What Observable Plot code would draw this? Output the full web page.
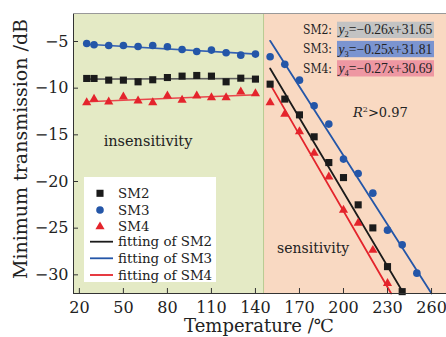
<!DOCTYPE html>
<html><head><meta charset="utf-8">
<script src="https://cdn.jsdelivr.net/npm/d3@7"></script>
<script src="https://cdn.jsdelivr.net/npm/@observablehq/plot@0.6"></script>
<style>
html,body{margin:0;padding:0;background:#fff;}
#chart{position:relative;width:446px;height:337px;overflow:hidden;}
</style></head><body><div id="chart"></div>
<script>
// ---- data ----
const tempLow = [25,30,40,50,60,70,80,90,100,110,120,130,140];
const sm2Low = [-8.96,-8.96,-9.14,-9.14,-9.32,-9.10,-8.86,-8.71,-8.64,-8.71,-9.32,-8.93,-9.03];
const sm3Low = [-5.21,-5.35,-5.43,-5.43,-5.54,-5.43,-5.57,-5.86,-6.07,-5.92,-6.21,-6.46,-6.35];
const sm4Low = [-11.54,-11.17,-11.46,-10.93,-11.36,-11.54,-10.82,-11.28,-10.82,-11.0,-11.0,-10.39,-10.57];

const tempHigh2 = [150,160,170,180,190,200,210,220,230,240];
const sm2High = [-9.57,-11.17,-12.86,-15.21,-17.97,-19.58,-22.5,-24.97,-29.12,-31.8];
const tempHigh3 = [150,160,170,180,190,200,210,220,230,240,250];
const sm3High = [-6.64,-7.45,-9.14,-11.89,-13.85,-17.6,-19.15,-21.25,-25.21,-26.79,-29.82];
const tempHigh4 = [150,160,170,180,190,200,210,220,230];
const sm4High = [-11.54,-12.78,-14.65,-16.96,-19.5,-23.07,-24.46,-27.36,-30.9];

// fitted lines (end points)
const fitLowX = [25,141];
const fit2Low = [-9.03,-8.97];
const fit3Low = [-5.3,-6.35];
const fit4Low = [-11.46,-10.71];
const fit2HighX = [150,241];
const fit2High = [-7.9,-32];
const fit3HighX = [150,260];
const fit3High = [-4.93,-32];
const fit4HighX = [150,232.5];
const fit4High = [-9.57,-32];

const regionNames = ["insensitivity","sensitivity"];
const regionStart = [16,145.5];
const regionEnd = [145.5,270.2];
const regionColors = ["#e4eac5","#f9d9c2"];

const xTicks = [20,50,80,110,140,170,200,230,260];
const yTicks = [-5,-10,-15,-20,-25,-30];
const xDomain = [16,270.2];
const yDomain = [-32,-2];

const seriesNames = ["SM2","SM3","SM4"];
const seriesColors = ["#1b1b1b","#2456a8","#e4242c"];
const lowFitColors = ["#5e5e5e","#3461b3","#e9474c"];
const equations = [["−0.26","+31.65"],["−0.25","+31.81"],["−0.27","+30.69"]];
const eqColors = ["#c3c3c3","#7b94d0","#ee97a2"];

// ---- tables ----
const pts = (xs, ys) => xs.map((x,i)=>({x, y: ys[i]}));
const regions = regionNames.map((n,i)=>({name:n, x1:regionStart[i], x2:regionEnd[i], y1:yDomain[0], y2:yDomain[1], fill:regionColors[i]}));
const sm2 = pts(tempLow, sm2Low).concat(pts(tempHigh2, sm2High));
const sm3 = pts(tempLow, sm3Low).concat(pts(tempHigh3, sm3High));
const sm4 = pts(tempLow, sm4Low).concat(pts(tempHigh4, sm4High));

const svg = Plot.plot({
  width: 446, height: 337,
  marginLeft: 73, marginRight: 0, marginTop: 13, marginBottom: 44,
  style: {fontFamily: "DejaVu Serif", fontSize: "16px", color: "#222", background: "transparent"},
  x: {domain: xDomain},
  y: {domain: yDomain},
  marks: [
    Plot.rect(regions, {x1:"x1", x2:"x2", y1:"y1", y2:"y2", fill:"fill"}),
    Plot.ruleX([regionStart[1]], {stroke:"#b9cc94", strokeWidth:1}),
    Plot.line(pts(fitLowX, fit2Low), {x:"x", y:"y", stroke: lowFitColors[0], strokeWidth:1.6}),
    Plot.line(pts(fitLowX, fit3Low), {x:"x", y:"y", stroke: lowFitColors[1], strokeWidth:1.6}),
    Plot.line(pts(fitLowX, fit4Low), {x:"x", y:"y", stroke: lowFitColors[2], strokeWidth:1.6}),
    Plot.line(pts(fit2HighX, fit2High), {x:"x", y:"y", stroke: seriesColors[0], strokeWidth:1.8}),
    Plot.line(pts(fit3HighX, fit3High), {x:"x", y:"y", stroke: seriesColors[1], strokeWidth:1.8}),
    Plot.line(pts(fit4HighX, fit4High), {x:"x", y:"y", stroke: seriesColors[2], strokeWidth:1.8}),
    Plot.dot(sm2, {x:"x", y:"y", symbol:"square", r:4, fill: seriesColors[0]}),
    Plot.dot(sm3, {x:"x", y:"y", symbol:"circle", r:3.8, fill: seriesColors[1]}),
    Plot.dot(sm4, {x:"x", y:"y", symbol:"triangle", r:3.4, fill: seriesColors[2]}),
    Plot.ruleX([xDomain[0]], {stroke:"#333"}),
    Plot.ruleY([yDomain[0]], {stroke:"#333"}),
    Plot.ruleY([yDomain[1]], {stroke:"#999"}),
    Plot.axisX({ticks: xTicks, tickSize: -5, tickPadding: 13, label: null, stroke:"#333"}),
    Plot.axisY({ticks: yTicks, tickSize: -5, tickPadding: 10, label: null, stroke:"#333"})
  ]
});
document.getElementById("chart").appendChild(svg);

// ---- annotations, legend and titles ----
const g = d3.select(svg).append("g").attr("font-family","DejaVu Serif").attr("fill","#222").attr("text-anchor","start");

// axis titles
g.append("text").attr("x",259).attr("y",332).attr("text-anchor","middle").attr("font-size",18).text("Temperature /℃");
g.append("text").attr("transform","translate(27,149) rotate(-90)").attr("text-anchor","middle").attr("font-size",19).text("Minimum transmission /dB");

// region labels
g.append("text").attr("x",148).attr("y",146).attr("text-anchor","middle").attr("font-size",14.5).text(regionNames[0]);
g.append("text").attr("x",277).attr("y",252.5).attr("font-size",14).text(regionNames[1]);

// R^2
const r2 = g.append("text").attr("x",353).attr("y",116.5).attr("font-size",13);
r2.append("tspan").attr("font-style","italic").text("R");
r2.append("tspan").attr("font-size",8).attr("dy",-5).text("2");
r2.append("tspan").attr("dy",5).text(">0.97");

// equations
const eqRowsY = [21.7, 40.9, 60.2];
seriesNames.forEach((s,i)=>{
  const y0 = eqRowsY[i];
  const rect = g.append("rect").attr("x",337).attr("y",y0).attr("width",97).attr("height",16.3).attr("fill",eqColors[i]);
  g.append("text").attr("x",303).attr("y",y0+12.4).attr("font-size",12).attr("textLength",29).attr("lengthAdjust","spacingAndGlyphs").text(s+":");
  const t = g.append("text").attr("x",338.5).attr("y",y0+12.6).attr("font-family","Liberation Serif").attr("font-size",13.6);
  t.append("tspan").attr("font-style","italic").text("y");
  t.append("tspan").attr("font-size",8.5).attr("dy",3).text(String(i+2));
  t.append("tspan").attr("dy",-3).text("="+equations[i][0]);
  t.append("tspan").attr("font-style","italic").text("x");
  t.append("tspan").text(equations[i][1]);
  const w = t.node().getComputedTextLength();
  if (w > 0) rect.attr("width", Math.max(97, w + 3));
});

// legend
const lg = g.append("g");
lg.append("rect").attr("x",84).attr("y",177).attr("width",132).attr("height",105).attr("fill","#fff");
const symRows = [193.3, 210, 226.7];
const lineRows = [241.7, 258.3, 275];
const syms = [d3.symbolSquare, d3.symbolCircle, d3.symbolTriangle];
const radii = [4, 3.8, 3.4];
seriesNames.forEach((s,i)=>{
  lg.append("path").attr("transform",`translate(100,${symRows[i]})`)
    .attr("d", d3.symbol(syms[i], Math.PI*radii[i]*radii[i])()).attr("fill",seriesColors[i]);
  lg.append("text").attr("x",118).attr("y",symRows[i]+4.6).attr("font-size",13.4).text(s);
});
seriesNames.forEach((s,i)=>{
  lg.append("line").attr("x1",90).attr("x2",113).attr("y1",lineRows[i]).attr("y2",lineRows[i])
    .attr("stroke",seriesColors[i]).attr("stroke-width",1.8);
  lg.append("text").attr("x",118).attr("y",lineRows[i]+4.6).attr("font-size",13.4).text("fitting of "+s);
});
</script>
</body></html>
